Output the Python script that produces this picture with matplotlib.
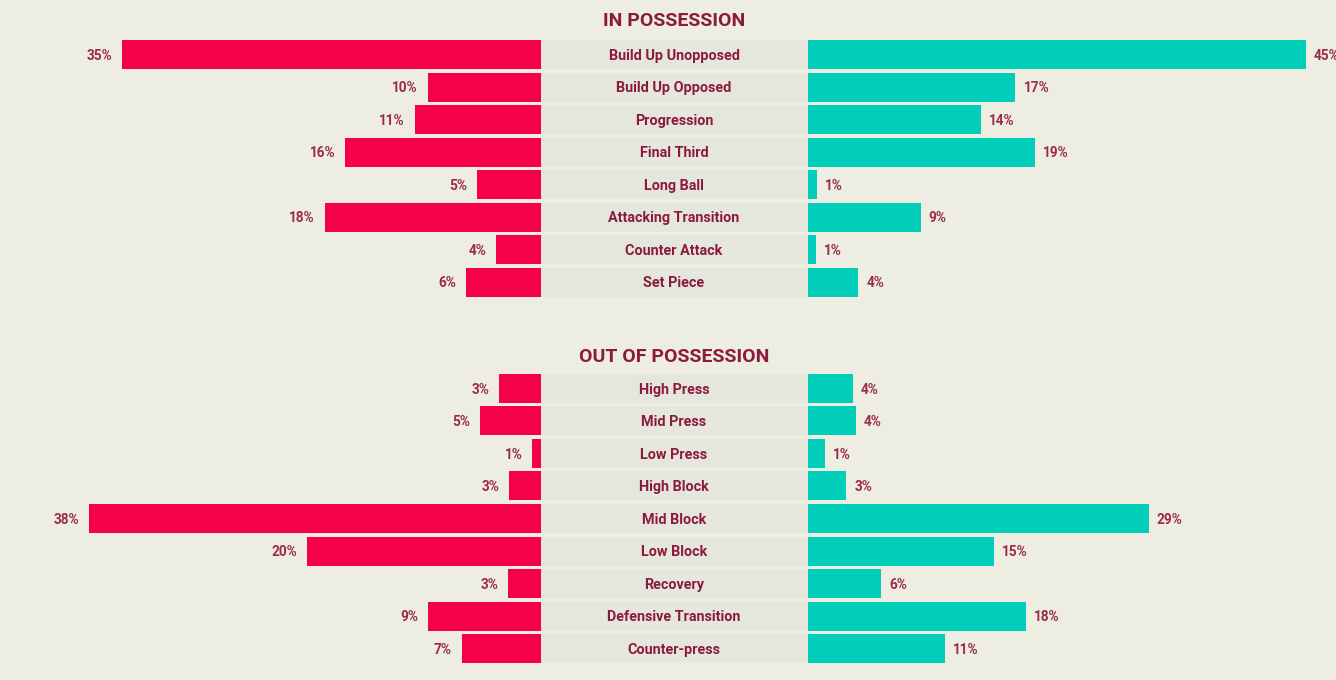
import matplotlib
matplotlib.use("Agg")
import matplotlib.pyplot as plt

# Data (bar lengths, labels as printed)
in_cats = ["Build Up Unopposed", "Build Up Opposed", "Progression", "Final Third",
           "Long Ball", "Attacking Transition", "Counter Attack", "Set Piece"]
in_left = [34.9, 9.4, 10.5, 16.3, 5.3, 18.0, 3.7, 6.2]
in_right = [41.5, 17.3, 14.4, 18.9, 0.75, 9.4, 0.67, 4.2]
in_left_lbl = [35, 10, 11, 16, 5, 18, 4, 6]
in_right_lbl = [45, 17, 14, 19, 1, 9, 1, 4]

out_cats = ["High Press", "Mid Press", "Low Press", "High Block", "Mid Block",
            "Low Block", "Recovery", "Defensive Transition", "Counter-press"]
out_left = [3.47, 5.06, 0.7, 2.64, 37.6, 19.5, 2.7, 9.37, 6.56]
out_right = [3.75, 4.0, 1.4, 3.2, 28.4, 15.5, 6.1, 18.2, 11.4]
out_left_lbl = [3, 5, 1, 3, 38, 20, 3, 9, 7]
out_right_lbl = [4, 4, 1, 3, 29, 15, 6, 18, 11]

# Style
BG = "#EDEDE2"
BAND = "#E5E6DC"
RED = "#F5004B"
TEAL = "#00CEB8"
DARK = "#8C1A3F"
PCT = "#9A2A4F"
FONT = ["Roboto", "DejaVu Sans"]

W, H = 1336, 680
PX = 12.0              # pixels per percentage point
L0 = 540.5 / PX        # inner edge of left bars
R0 = 807.7 / PX        # inner edge of right bars
XMAX = W / PX
MID = 674 / PX
PITCH = 32.5
BAR_H = 29 / PITCH
TXT_DY = 0.035         # nudge text down a touch

fig = plt.figure(figsize=(W / 100, H / 100), dpi=100, facecolor=BG)


def section(cats, left, right, left_lbl, right_lbl, first_center, title, title_y):
    n = len(cats)
    top = first_center - PITCH / 2
    height = n * PITCH
    ax = fig.add_axes([0, 1 - (top + height) / H, 1, height / H])
    ax.set_facecolor(BG)
    ax.set_xlim(0, XMAX)
    ax.set_ylim(n - 0.5, -0.5)
    ax.axis("off")
    y = list(range(n))

    ax.barh(y, [R0 - L0] * n, left=L0, height=BAR_H, color=BAND)
    ax.barh(y, [-v for v in left], left=L0, height=BAR_H, color=RED)
    ax.barh(y, right, left=R0, height=BAR_H, color=TEAL)

    for i in range(n):
        ax.text(MID, i + TXT_DY, cats[i], ha="center", va="center", fontsize=10.4,
                fontweight="bold", color=DARK, family=FONT)
        ax.annotate(f"{left_lbl[i]}%", (L0 - left[i], i + TXT_DY), xytext=(-7, 0),
                    textcoords="offset points", ha="right", va="center",
                    fontsize=9.8, fontweight="bold", color=PCT, family=FONT)
        ax.annotate(f"{right_lbl[i]}%", (R0 + right[i], i + TXT_DY), xytext=(6, 0),
                    textcoords="offset points", ha="left", va="center",
                    fontsize=9.8, fontweight="bold", color=PCT, family=FONT)

    fig.text(MID * PX / W, 1 - title_y / H, title, ha="center", va="center",
             fontsize=14, fontweight="bold", color=DARK, family=FONT)


section(in_cats, in_left, in_right, in_left_lbl, in_right_lbl, 54.5,
        "IN POSSESSION", 21)
section(out_cats, out_left, out_right, out_left_lbl, out_right_lbl, 388.5,
        "OUT OF POSSESSION", 356.5)

fig.savefig("out.png", dpi=100, facecolor=BG)
